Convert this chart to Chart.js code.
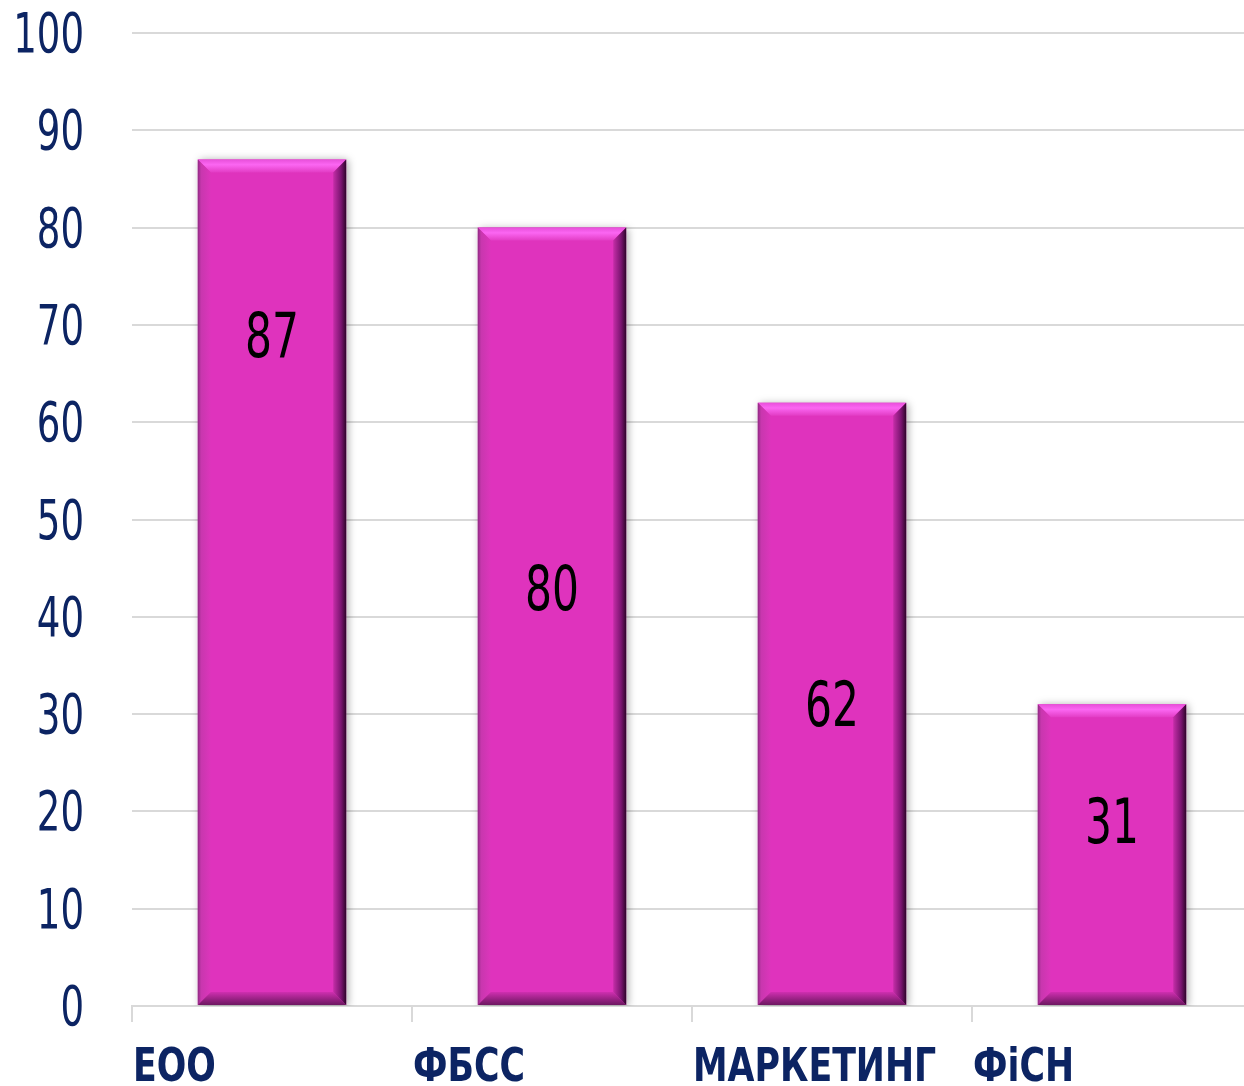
<!DOCTYPE html>
<html lang="uk">
<head>
  <meta charset="UTF-8">
  <title>Bar chart</title>
  <script src="https://cdn.jsdelivr.net/npm/chart.js"></script>
  <style>
    html, body { margin: 0; padding: 0; background: #fff; overflow: hidden; }
    /* the plot runs a little past the right edge of the picture */
    #wrap { width: 1252px; height: 1086px; position: relative; }
  </style>
</head>
<body>
  <div id="wrap"><canvas id="chart"></canvas></div>

  <script>
    // Data
    const categories = ['ЕОО', 'ФБСС', 'МАРКЕТИНГ', 'ФіСН'];
    const values = [87, 80, 62, 31];
    const yMin = 0;
    const yMax = 100;
    const yStep = 10;
    // where each value label sits, in axis units
    const labelAt = [69, 43, 31, 19];

    const navy = '#0C2463';
    const condensed = '"DejaVu Sans Condensed", "DejaVu Sans", sans-serif';

    // text squeezed horizontally, the original uses a narrow face
    function squeezed(ctx, text, x, y, align, font, sx, color) {
      ctx.save();
      ctx.translate(x, y);
      ctx.scale(sx, 1);
      ctx.font = font;
      ctx.fillStyle = color;
      ctx.textAlign = align;
      ctx.textBaseline = 'alphabetic';
      ctx.fillText(text, 0, 0);
      ctx.restore();
    }

    // soft shadow under bars
    const barShadow = {
      id: 'barShadow',
      beforeDatasetDraw(chart) {
        const ctx = chart.ctx;
        ctx.save();
        ctx.shadowColor = 'rgba(0,0,0,0.35)';
        ctx.shadowBlur = 8;
        ctx.shadowOffsetX = 2;
        ctx.shadowOffsetY = 1;
      },
      afterDatasetDraw(chart) {
        chart.ctx.restore();
      }
    };

    // bevelled edges + value labels
    const bevel = {
      id: 'bevel',
      afterDatasetsDraw(chart) {
        const ctx = chart.ctx;
        const yScale = chart.scales.y;
        chart.getDatasetMeta(0).data.forEach((bar, i) => {
          const l = bar.x - bar.width / 2, r = bar.x + bar.width / 2;
          const t = bar.y, b = bar.base;
          const e = 13;

          function quad(pts, fill) {
            ctx.beginPath();
            ctx.moveTo(pts[0][0], pts[0][1]);
            for (let k = 1; k < pts.length; k++) ctx.lineTo(pts[k][0], pts[k][1]);
            ctx.closePath();
            ctx.fillStyle = fill;
            ctx.fill();
          }

          ctx.save();
          // top
          let g = ctx.createLinearGradient(0, t, 0, t + e);
          g.addColorStop(0, '#E84FDA');
          g.addColorStop(0.4, '#FB66F2');
          g.addColorStop(1, '#E23CC4');
          quad([[l, t], [r, t], [r - e, t + e], [l + e, t + e]], g);
          // left
          g = ctx.createLinearGradient(l, 0, l + e, 0);
          g.addColorStop(0, '#8E2A82');
          g.addColorStop(0.25, '#C837AE');
          g.addColorStop(1, '#DD35BC');
          quad([[l, t], [l + e, t + e], [l + e, b - e], [l, b]], g);
          // bottom
          g = ctx.createLinearGradient(0, b - e, 0, b);
          g.addColorStop(0, '#CF2FB0');
          g.addColorStop(0.6, '#93207F');
          g.addColorStop(1, '#6E1762');
          quad([[l, b], [r, b], [r - e, b - e], [l + e, b - e]], g);
          // right
          g = ctx.createLinearGradient(r - e, 0, r, 0);
          g.addColorStop(0, '#C52EA8');
          g.addColorStop(0.6, '#7A1470');
          g.addColorStop(1, '#2E0429');
          quad([[r, t], [r, b], [r - e, b - e], [r - e, t + e]], g);
          ctx.restore();

          // value label
          const cy = yScale.getPixelForValue(labelAt[i]);
          squeezed(ctx, String(values[i]), bar.x, cy + 22, 'center', '62px ' + condensed, 0.76, '#000');
        });
      }
    };

    // axis labels, drawn by hand so they can be narrowed
    const axisText = {
      id: 'axisText',
      afterDraw(chart) {
        const ctx = chart.ctx;
        const xs = chart.scales.x, ys = chart.scales.y;
        ys.ticks.forEach(tk => {
          const py = ys.getPixelForValue(tk.value);
          squeezed(ctx, String(tk.value), ys.right - 48, py + 19, 'right', '55px ' + condensed, 0.75, navy);
        });
        const half = (xs.getPixelForTick(1) - xs.getPixelForTick(0)) / 2;
        categories.forEach((c, i) => {
          const px = xs.getPixelForTick(i) - half;
          squeezed(ctx, c, px + 1, xs.top + 75, 'left', 'bold 46px ' + condensed, 0.84, navy);
        });
      }
    };

    new Chart(document.getElementById('chart'), {
      type: 'bar',
      data: {
        labels: categories,
        datasets: [{
          data: values,
          backgroundColor: '#DF33BD',
          borderWidth: 0,
          categoryPercentage: 1,
          barPercentage: 0.53
        }]
      },
      options: {
        responsive: true,
        maintainAspectRatio: false,
        animation: false,
        layout: { padding: { top: 33, right: 0, bottom: 0, left: 0 } },
        plugins: {
          legend: { display: false },
          tooltip: { enabled: false }
        },
        scales: {
          x: {
            offset: true,
            grid: {
              offset: true,
              drawOnChartArea: false,
              drawTicks: true,
              tickLength: 16,
              color: '#D9D9D9',
              lineWidth: 2
            },
            border: { display: true, color: '#D9D9D9', width: 2 },
            ticks: { display: false, autoSkip: false },
            afterFit(scale) { scale.height = 80; }
          },
          y: {
            min: yMin,
            max: yMax,
            ticks: { display: false, stepSize: yStep },
            grid: { color: '#D9D9D9', lineWidth: 2, drawTicks: false },
            border: { display: false },
            afterFit(scale) { scale.width = 132; }
          }
        }
      },
      plugins: [barShadow, bevel, axisText]
    });
  </script>
</body>
</html>
